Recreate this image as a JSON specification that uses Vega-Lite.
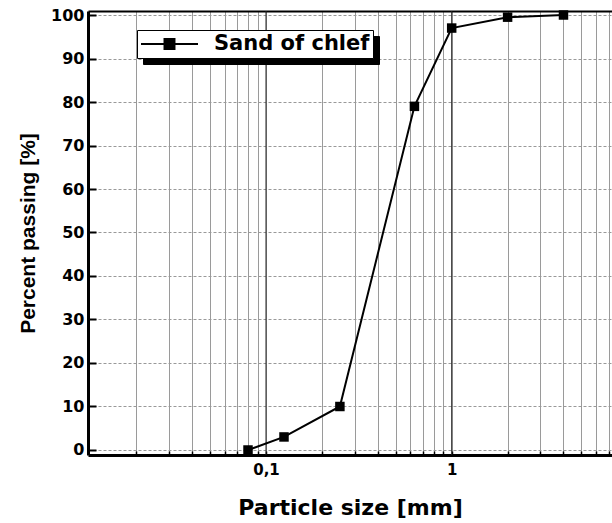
{
  "$schema": "https://vega.github.io/schema/vega-lite/v6.json",
  "width": 524,
  "height": 444,
  "autosize": {"type": "none"},
  "padding": {"left": 88, "top": 11, "right": 0, "bottom": 68},
  "background": "white",
  "config": {"view": {"stroke": null}, "font": "DejaVu Sans"},
  "layer": [
    {
      "data": {"values": [{"d": 0.1}, {"d": 1}]},
      "mark": {"type": "rule", "color": "#222", "strokeWidth": 1},
      "encoding": {
        "x": {
          "field": "d", "type": "quantitative",
          "scale": {"type": "log", "domain": [0.011, 7.3], "nice": false},
          "axis": {"orient": "top", "labels": false, "ticks": false, "grid": false, "title": null, "domainWidth": 2, "domainColor": "black"}
        }
      }
    },
    {
      "data": {"values": [{"size": 0.08, "pass": 0}]},
      "mark": {"type": "point", "opacity": 0},
      "encoding": {
        "x": {"field": "size", "type": "quantitative", "scale": {"type": "log", "domain": [0.011, 7.3], "nice": false}, "axis": null},
        "y": {"field": "pass", "type": "quantitative", "scale": {"domain": [-1.15, 100.92], "nice": false, "zero": false}},
        "shape": {
          "datum": "shadow",
          "scale": {"range": ["square"]},
          "legend": {
            "orient": "none", "legendX": 55, "legendY": 25, "title": null, "zindex": 0,
            "labelExpr": "''",
            "symbolType": "stroke", "symbolSize": 51984, "symbolStrokeColor": "black", "symbolFillColor": "black",
            "labelFontSize": 21, "labelOffset": 0,
            "strokeColor": "black", "fillColor": "black", "padding": 3, "clipHeight": 22
          }
        }
      }
    },
    {
      "data": {"values": [
        {"size": 0.08, "pass": 0},
        {"size": 0.125, "pass": 3},
        {"size": 0.25, "pass": 10},
        {"size": 0.63, "pass": 79},
        {"size": 1, "pass": 97},
        {"size": 2, "pass": 99.5},
        {"size": 4, "pass": 100}
      ]},
      "mark": {"type": "line", "strokeWidth": 2, "point": {"shape": "square", "size": 90, "filled": true, "color": "black", "opacity": 1}},
      "encoding": {
        "x": {
          "field": "size", "type": "quantitative",
          "scale": {"type": "log", "domain": [0.011, 7.3], "nice": false},
          "axis": {
            "orient": "bottom",
            "title": "Particle size [mm]",
            "titleFont": "DejaVu Sans", "titleFontWeight": "bold", "titleFontSize": 22, "titleColor": "black", "titlePadding": 20,
            "values": [0.02,0.03,0.04,0.05,0.06,0.07,0.08,0.09,0.1,0.2,0.3,0.4,0.5,0.6,0.7,0.8,0.9,1,2,3,4,5,6,7],
            "labelExpr": "datum.value == 0.1 ? '0,1' : (datum.value == 1 ? '1' : '')",
            "labelFont": "DejaVu Sans", "labelFontWeight": "bold", "labelFontSize": 15, "labelColor": "black", "labelPadding": 11,
            "labelOverlap": false, "labelFlush": false,
            "tickSize": -4, "tickColor": "black", "tickWidth": 1.5,
            "domainColor": "black", "domainWidth": 3,
            "grid": true, "gridColor": "#9a9a9a", "gridWidth": 1
          }
        },
        "y": {
          "field": "pass", "type": "quantitative",
          "scale": {"domain": [-1.15, 100.92], "nice": false, "zero": false},
          "axis": {
            "title": "Percent passing [%]",
            "titleFont": "Liberation Sans", "titleFontWeight": "bold", "titleFontSize": 21, "titleColor": "black", "titlePadding": 12,
            "values": [0,10,20,30,40,50,60,70,80,90,100],
            "labelFont": "DejaVu Sans", "labelFontWeight": "bold", "labelFontSize": 16, "labelColor": "black", "labelPadding": 12,
            "tickSize": -8, "tickColor": "black", "tickWidth": 2,
            "domainColor": "black", "domainWidth": 3,
            "grid": true, "gridColor": "#999", "gridWidth": 1, "gridDash": [3, 2]
          }
        },
        "color": {
          "datum": "Sand of chlef",
          "scale": {"range": ["black"]},
          "legend": {
            "orient": "none", "legendX": 49, "legendY": 19, "title": null, "zindex": 1,
            "symbolType": "M-1,0L1,0M-0.175,-0.175L0.175,-0.175L0.175,0.175L-0.175,0.175Z",
            "symbolSize": 3249, "symbolStrokeWidth": 2, "symbolFillColor": "black", "symbolStrokeColor": "black", "symbolOpacity": 1,
            "labelFont": "DejaVu Sans", "labelFontWeight": "bold", "labelFontSize": 21, "labelColor": "black", "labelOffset": 15,
            "strokeColor": "black", "fillColor": "white", "padding": 3, "clipHeight": 22
          }
        }
      }
    }
  ],
  "resolve": {"axis": {"x": "independent"}}
}
